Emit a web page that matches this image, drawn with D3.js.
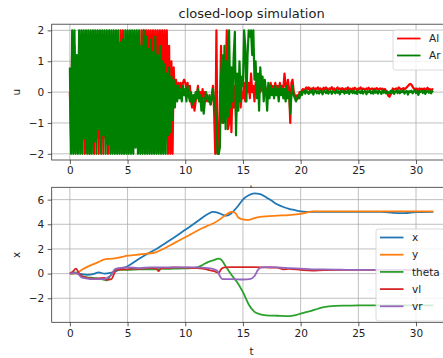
<!DOCTYPE html>
<html>
<head>
<meta charset="utf-8">
<script src="https://cdnjs.cloudflare.com/ajax/libs/d3/7.8.5/d3.min.js"></script>
<style>
body{margin:0;background:#fff;}
text{font-family:"DejaVu Sans", sans-serif;fill:#222;}
</style>
</head>
<body>
<script>
// ---- data ----
var uStep = 0.1; // sample step of the input signals (s)

var Al = [
	0,-1.5,1.5,-1.5,1.5,-1.5,1.0,-1.5,1.5,-1.5,
	1.5,-1.5,1.5,-2,1.5,-1.5,1.5,-2,1.5,-1.5,
	1.5,-2,1.5,-1.5,1.5,-2,1.5,-1.5,1.5,-2,
	1.5,-1.5,1.5,-2,1.5,-1.5,1.5,-1.5,1.5,-1.5,
	1.5,-1.5,1.5,-1.5,2,-1.5,2,-1.5,1.5,-1.5,
	1.5,-1.5,1.5,-1.5,1.5,-1.5,1.5,-1.5,1.5,-1.5,
	1.5,-1.5,2,-1.5,2,-1.5,2,-1.5,2,-1.5,
	2,-1.5,2,-1.5,2,-1.5,2,-1.5,2,-1.5,
	2,-1.5,2,-1.5,2,-2,1.5,-2,1.0,-2,
	0.8,-0.3,0.4,-0.2,0.3,0.1,0.3,0.0,0.3,0.4,
	0.3,0.1,0.3,0.0,0.2,-0.3,-0.5,-0.2,-0.6,-0.3,
	-0.1,0.2,-0.2,0.0,-0.3,0.1,-0.2,0.0,-0.3,-0.1,
	-0.3,-0.2,-0.4,-0.1,0.2,-0.6,
	-2,2,-2,-2,-0.5,1.5,-1.0,0.4,-0.6,0.2,
	2.0,-1.2,-1.0,0.6,-1.3,0.3,-0.5,0.2,-0.8,0.4,
	-0.3,0.3,-0.5,0.0,-0.2,0.3,-0.3,0.2,0.0,0.3,
	-0.2,0.6,0.0,0.2,-0.3,0.3,0.1,-0.1,0.2,0.0,
	0.1,0.2,0.0,0.2,0.1,0.0,0.2,0.1,0.3,0.1,
	0.2,0.0,0.3,0.1,0.2,0.0,0.3,0.1,0.2,0.1,
	0.6,0.2,0.1,0.4,0.1,-1.0,0.3,0.4,0.0,-0.1,
	-0.2,-0.1,-0.2,0.0,-0.1,0.05,0.1,0.0,0.1,0.15,
	0.1,0.15,0.05,0.12,0.08,0.14,0.06,0.12,0.1,0.15,
	0.08,0.12,0.05,0.1,0.14,0.08,0.15,0.1,0.06,0.12,
	0.1,0.16,0.08,0.12,0.05,0.1,0.15,0.09,0.12,0.07,
	0.13,0.1,0.06,0.12,0.1,0.15,0.08,0.11,0.05,0.12,
	0.09,0.14,0.1,0.06,0.12,0.1,0.15,0.08,0.12,0.1,
	0.07,0.12,0.1,0.14,0.08,0.1,0.12,0.06,0.11,0.09,
	0.13,0.08,0.1,0.12,0.09,0.11,0.07,0.1,0.05,-0.04,
	-0.12,-0.15,-0.08,0.04,0.12,0.08,0.1,0.12,0.09,0.15,
	0.12,0.08,0.1,0.13,0.09,0.12,0.16,0.2,0.24,0.27,
	0.24,0.18,0.12,0.08,0.12,0.1,0.05,0.12,0.09,0.11,
	0.08,0.12,0.06,0.1,0.14,0.08,0.1,0.05,0.09,0.1
];

var Ar = [
	0.8,-2,2,-2,2,-2,1.2,-2,2,-2,
	2,-2,2,-1.5,2,-2,2,-2,2,-2,
	2,-1.6,2,-2,2,-1.2,2,-2,2,-1.4,
	2,-2,2,-1.7,2,-2,2,-2,2,-2,
	2,-2,2,-2,1.6,-2,1.7,-2,2,-2,
	2,-2,2,-2,2,-2,2,-1.8,2,-2,
	2,-2,1.5,-2,2,-2,1.8,-2,1.4,-2,
	1.7,-2,1.3,-2,1.8,-2,1.2,-2,1.5,-2,
	1.0,-2,0.9,-2,0.6,-1.4,0.8,-1.3,0.5,-0.9,
	0.4,-0.5,0.2,-0.3,0.2,-0.2,0.1,-0.3,0.2,-0.1,
	0.1,-0.3,0.2,-0.1,-0.3,0.0,-0.4,-0.1,-0.3,0.0,
	-0.2,0.1,-0.3,-0.1,-0.6,-0.2,-0.7,-0.3,0.0,-0.2,
	-0.3,-0.1,-0.4,-0.2,0.1,-0.3,
	-0.5,-1.0,-2,-2,-1.8,0.5,1.2,-1.0,1.5,-1.2,
	1.0,-0.8,2.0,-0.5,0.8,-0.3,1.2,1.95,-1.4,0.6,
	-0.6,1.0,-0.3,0.5,0.2,2.0,1.5,-0.3,1.2,2.0,
	1.8,2.0,1.2,2.0,0.4,1.0,-0.2,0.6,-0.6,0.8,
	0.2,0.5,-0.3,0.4,0.0,-0.6,0.3,-0.2,0.2,-0.1,
	0.1,-0.2,0.2,-0.1,0.1,-0.3,0.2,-0.1,0.1,-0.2,
	0.1,-0.3,0.2,-0.2,0.0,-0.7,-0.1,0.2,-0.1,-0.2,
	-0.3,-0.2,-0.1,-0.2,0.0,-0.1,0.0,0.05,-0.05,0.05,
	0.0,-0.06,0.04,-0.02,0.06,-0.08,0.02,0.05,-0.04,0.03,
	-0.05,0.04,0.0,-0.07,0.05,0.02,-0.03,0.06,-0.05,0.01,
	0.04,-0.06,0.03,0.0,-0.04,0.06,-0.02,0.03,-0.07,0.04,
	0.0,0.05,-0.05,0.03,-0.02,0.06,-0.06,0.02,0.04,-0.03,
	0.05,-0.04,0.02,-0.06,0.04,0.0,-0.03,0.06,-0.05,0.02,
	0.04,-0.07,0.03,0.0,0.05,-0.04,0.02,-0.05,0.06,-0.02,
	0.03,-0.05,0.04,0.0,-0.06,0.05,-0.02,0.03,-0.04,0.02,
	0.0,-0.05,0.04,-0.03,0.05,-0.06,0.02,0.04,-0.03,0.05,
	-0.04,0.03,0.0,0.06,-0.05,0.02,0.04,-0.08,0.03,0.0,
	0.05,-0.04,0.02,0.06,-0.03,0.04,-0.09,0.03,0.0,0.05,
	-0.03,0.04,-0.06,0.02,0.05,-0.02,0.03,-0.04,0.02,0.04
];

// state trajectories, [t, value]
var xPos = [[0,0],[0.5,0.05],[1,-0.05],[1.5,-0.1],[2,-0.05],[2.5,0.1],[3,0.0],[3.5,0.05],[4,0.2],[4.5,0.4],[5,0.6],[6,1.2],[7,1.75],[7.5,2.0],[8,2.3],[9,2.9],[10,3.55],[11,4.2],[11.5,4.55],[12,4.85],[12.4,5.0],[12.8,4.95],[13.3,4.75],[13.6,4.7],[14,4.9],[14.5,5.4],[15,6.0],[15.5,6.35],[16,6.5],[16.5,6.45],[17,6.2],[17.5,5.9],[18,5.6],[18.5,5.4],[19,5.25],[19.5,5.15],[20,5.05],[21,5.0],[27,5.0],[28,4.93],[29,4.9],[30,4.98],[31.5,5.0]];
var yPos = [[0,0],[0.5,0.0],[1,0.3],[1.5,0.55],[2,0.75],[2.5,0.95],[3,1.15],[3.5,1.2],[4,1.25],[4.5,1.35],[5,1.45],[5.5,1.5],[6,1.55],[6.5,1.6],[7,1.65],[7.5,1.75],[8,1.95],[8.5,2.2],[9,2.45],[9.5,2.7],[10,2.95],[10.5,3.2],[11,3.45],[11.5,3.7],[12,3.9],[12.5,4.1],[13,4.4],[13.5,4.75],[14,5.0],[14.3,4.95],[14.6,4.55],[15,4.4],[15.5,4.35],[16,4.5],[16.5,4.6],[17,4.65],[18,4.7],[19,4.75],[20,4.85],[20.5,4.95],[21,5.05],[31.5,5.05]];
var theta = [[0,0],[0.5,0.1],[1,-0.2],[1.5,-0.3],[2,-0.35],[2.5,-0.4],[3,-0.5],[3.2,-0.55],[3.5,-0.2],[3.8,0.2],[4,0.3],[5,0.3],[6,0.35],[7,0.35],[8,0.38],[9,0.4],[10,0.42],[10.5,0.45],[11,0.5],[11.5,0.7],[12,0.95],[12.5,1.1],[12.9,1.22],[13.1,1.15],[13.5,0.6],[14,-0.1],[14.5,-0.7],[15,-1.5],[15.5,-2.5],[16,-3.1],[16.5,-3.3],[17,-3.38],[18,-3.42],[19,-3.45],[19.5,-3.38],[20,-3.25],[21,-3.0],[21.5,-2.85],[22,-2.72],[23,-2.62],[24,-2.6],[25,-2.58],[31.5,-2.57]];
var vl = [[0,0],[0.3,0.2],[0.5,0.4],[0.6,0.35],[0.8,0.0],[1,-0.2],[1.5,-0.35],[2,-0.4],[2.5,-0.38],[3,-0.35],[3.2,-0.5],[3.6,-0.45],[3.8,-0.1],[4,0.3],[4.5,0.35],[5,0.35],[5.5,0.4],[6,0.38],[6.5,0.42],[7,0.45],[7.5,0.4],[7.7,0.2],[7.9,0.45],[8.5,0.45],[9,0.5],[10,0.48],[11,0.45],[11.5,0.4],[12,0.3],[12.5,0.2],[12.9,0.05],[13.1,0.35],[13.4,0.5],[14,0.52],[15,0.52],[16,0.52],[17,0.5],[18,0.48],[18.5,0.35],[19,0.38],[20,0.3],[21,0.25],[22,0.28],[25,0.3],[31.5,0.3]];
var vr = [[0,0],[0.5,0.05],[0.8,-0.1],[1,-0.3],[1.5,-0.4],[2,-0.45],[2.5,-0.45],[3,-0.45],[3.3,-0.3],[3.6,-0.1],[3.9,0.35],[4.2,0.45],[5,0.5],[6,0.45],[7,0.5],[8,0.5],[9,0.5],[10,0.5],[11,0.5],[12,0.45],[12.5,0.35],[12.8,0.2],[13,-0.2],[13.2,-0.45],[14,-0.45],[15,-0.48],[15.6,-0.45],[16,-0.2],[16.3,0.3],[16.6,0.5],[17,0.52],[18,0.5],[19,0.45],[20,0.4],[21,0.35],[22,0.35],[25,0.3],[31.5,0.3]];

var tTicks = [0,5,10,15,20,25,30];
var uTicks = [-2,-1,0,1,2];
var xTicks = [-2,0,2,4,6];

var uNames = ["Al","Ar"];
var uColors = ["#ff0000","#008000"];
var xNames = ["x","y","theta","vl","vr"];
var xColors = ["#1f77b4","#ff7f0e","#2ca02c","#d62728","#9467bd"];

// ---- layout ----
var W = 443, H = 358;
var left = 51.7, right = 451.5;
var topBox = [24.2, 160], botBox = [187.3, 322.3];

var svg = d3.select("body").append("svg")
	.attr("width", W).attr("height", H)
	.style("display", "block");
svg.append("rect").attr("width", W).attr("height", H).attr("fill", "#fff");

var xT = d3.scaleLinear().domain([-1.575, 33.075]).range([left, right]);
var yU = d3.scaleLinear().domain([-2.2, 2.2]).range([topBox[1], topBox[0]]);
var yX = d3.scaleLinear().domain([-3.95, 7.0]).range([botBox[1], botBox[0]]);

function panel(y, yticks, box, id){
	var g = svg.append("g");
	g.append("rect").attr("x", left).attr("y", box[0])
		.attr("width", right - left).attr("height", box[1] - box[0])
		.attr("fill", "#fff");

	g.append("clipPath").attr("id", id)
		.append("rect").attr("x", left).attr("y", box[0])
		.attr("width", right - left).attr("height", box[1] - box[0]);

	//grid
	g.selectAll(".gx").data(tTicks).enter().append("line")
		.attr("x1", d => xT(d)).attr("x2", d => xT(d))
		.attr("y1", box[0]).attr("y2", box[1])
		.attr("stroke", "#b0b0b0").attr("stroke-width", 0.8);
	g.selectAll(".gy").data(yticks).enter().append("line")
		.attr("x1", left).attr("x2", right)
		.attr("y1", d => y(d)).attr("y2", d => y(d))
		.attr("stroke", "#b0b0b0").attr("stroke-width", 0.8);
	return g;
}

function frame(g, y, yticks, box){
	g.append("rect").attr("x", left).attr("y", box[0])
		.attr("width", right - left).attr("height", box[1] - box[0])
		.attr("fill", "none").attr("stroke", "#333").attr("stroke-width", 0.8);

	var fmt = d3.format("d");
	var ax = g.append("g").attr("transform", "translate(0," + box[1] + ")")
		.call(d3.axisBottom(xT).tickValues(tTicks).tickFormat(fmt).tickSize(4).tickPadding(3));
	var ay = g.append("g").attr("transform", "translate(" + left + ",0)")
		.call(d3.axisLeft(y).tickValues(yticks).tickFormat(fmt).tickSize(4).tickPadding(3.5));
	[ax, ay].forEach(function(a){
		a.select(".domain").remove();
		a.selectAll("line").attr("stroke", "#333").attr("stroke-width", 0.8);
		a.selectAll("text").style("font-size", "10.5px").attr("fill", "#222");
	});
}

function legend(g, names, colors, x0, y0, w, rowH){
	var h = names.length * rowH + 6;
	g.append("rect").attr("x", x0).attr("y", y0).attr("width", w).attr("height", h)
		.attr("rx", 2.5)
		.attr("fill", "#fff").attr("fill-opacity", 0.8)
		.attr("stroke", "#d0d0d0").attr("stroke-width", 0.8);
	names.forEach(function(n, i){
		var cy = y0 + 8.5 + i * rowH;
		g.append("line").attr("x1", x0 + 4).attr("x2", x0 + 27.5)
			.attr("y1", cy).attr("y2", cy)
			.attr("stroke", colors[i]).attr("stroke-width", 1.8);
		g.append("text").attr("x", x0 + 36).attr("y", cy).attr("dy", "0.35em")
			.style("font-size", "10.5px").text(n);
	});
}

// ---- top: inputs ----
var gU = panel(yU, uTicks, topBox, "clipU");
var lineU = d3.line().x(d => xT(d[0])).y(d => yU(d[1]));
[Al, Ar].forEach(function(s, k){
	gU.append("path")
		.datum(s.map((v, i) => [i * uStep, v]))
		.attr("d", lineU)
		.attr("clip-path", "url(#clipU)")
		.attr("fill", "none")
		.attr("stroke", uColors[k])
		.attr("stroke-width", 2.2)
		.attr("stroke-linejoin", "round");
});
frame(gU, yU, uTicks, topBox);
legend(gU, uNames, uColors, 393, 30, 56, 17);

gU.append("text").attr("x", (left + right) / 2).attr("y", 17.5)
	.attr("text-anchor", "middle").style("font-size", "13px")
	.text("closed-loop simulation");
gU.append("text").attr("transform", "translate(16," + yU(0) + ") rotate(-90)")
	.attr("text-anchor", "middle").attr("dy", "0.35em").style("font-size", "10.5px")
	.text("u");
// x label of top panel, mostly hidden under the lower axes
gU.append("text").attr("x", (left + right) / 2).attr("y", 193)
	.attr("text-anchor", "middle").style("font-size", "10.5px").text("t");

// ---- bottom: states ----
var gX = panel(yX, xTicks, botBox, "clipX");
var lineX = d3.line().x(d => xT(d[0])).y(d => yX(d[1])).curve(d3.curveMonotoneX);
[xPos, yPos, theta, vl, vr].forEach(function(s, k){
	gX.append("path")
		.datum(s)
		.attr("d", lineX)
		.attr("clip-path", "url(#clipX)")
		.attr("fill", "none")
		.attr("stroke", xColors[k])
		.attr("stroke-width", 1.8);
});
frame(gX, yX, xTicks, botBox);
legend(gX, xNames, xColors, 376, 229, 73, 17.2);

gX.append("text").attr("transform", "translate(16," + ((botBox[0] + botBox[1]) / 2) + ") rotate(-90)")
	.attr("text-anchor", "middle").attr("dy", "0.35em").style("font-size", "10.5px")
	.text("x");
gX.append("text").attr("x", (left + right) / 2).attr("y", 355)
	.attr("text-anchor", "middle").style("font-size", "10.5px").text("t");
</script>
</body>
</html>
